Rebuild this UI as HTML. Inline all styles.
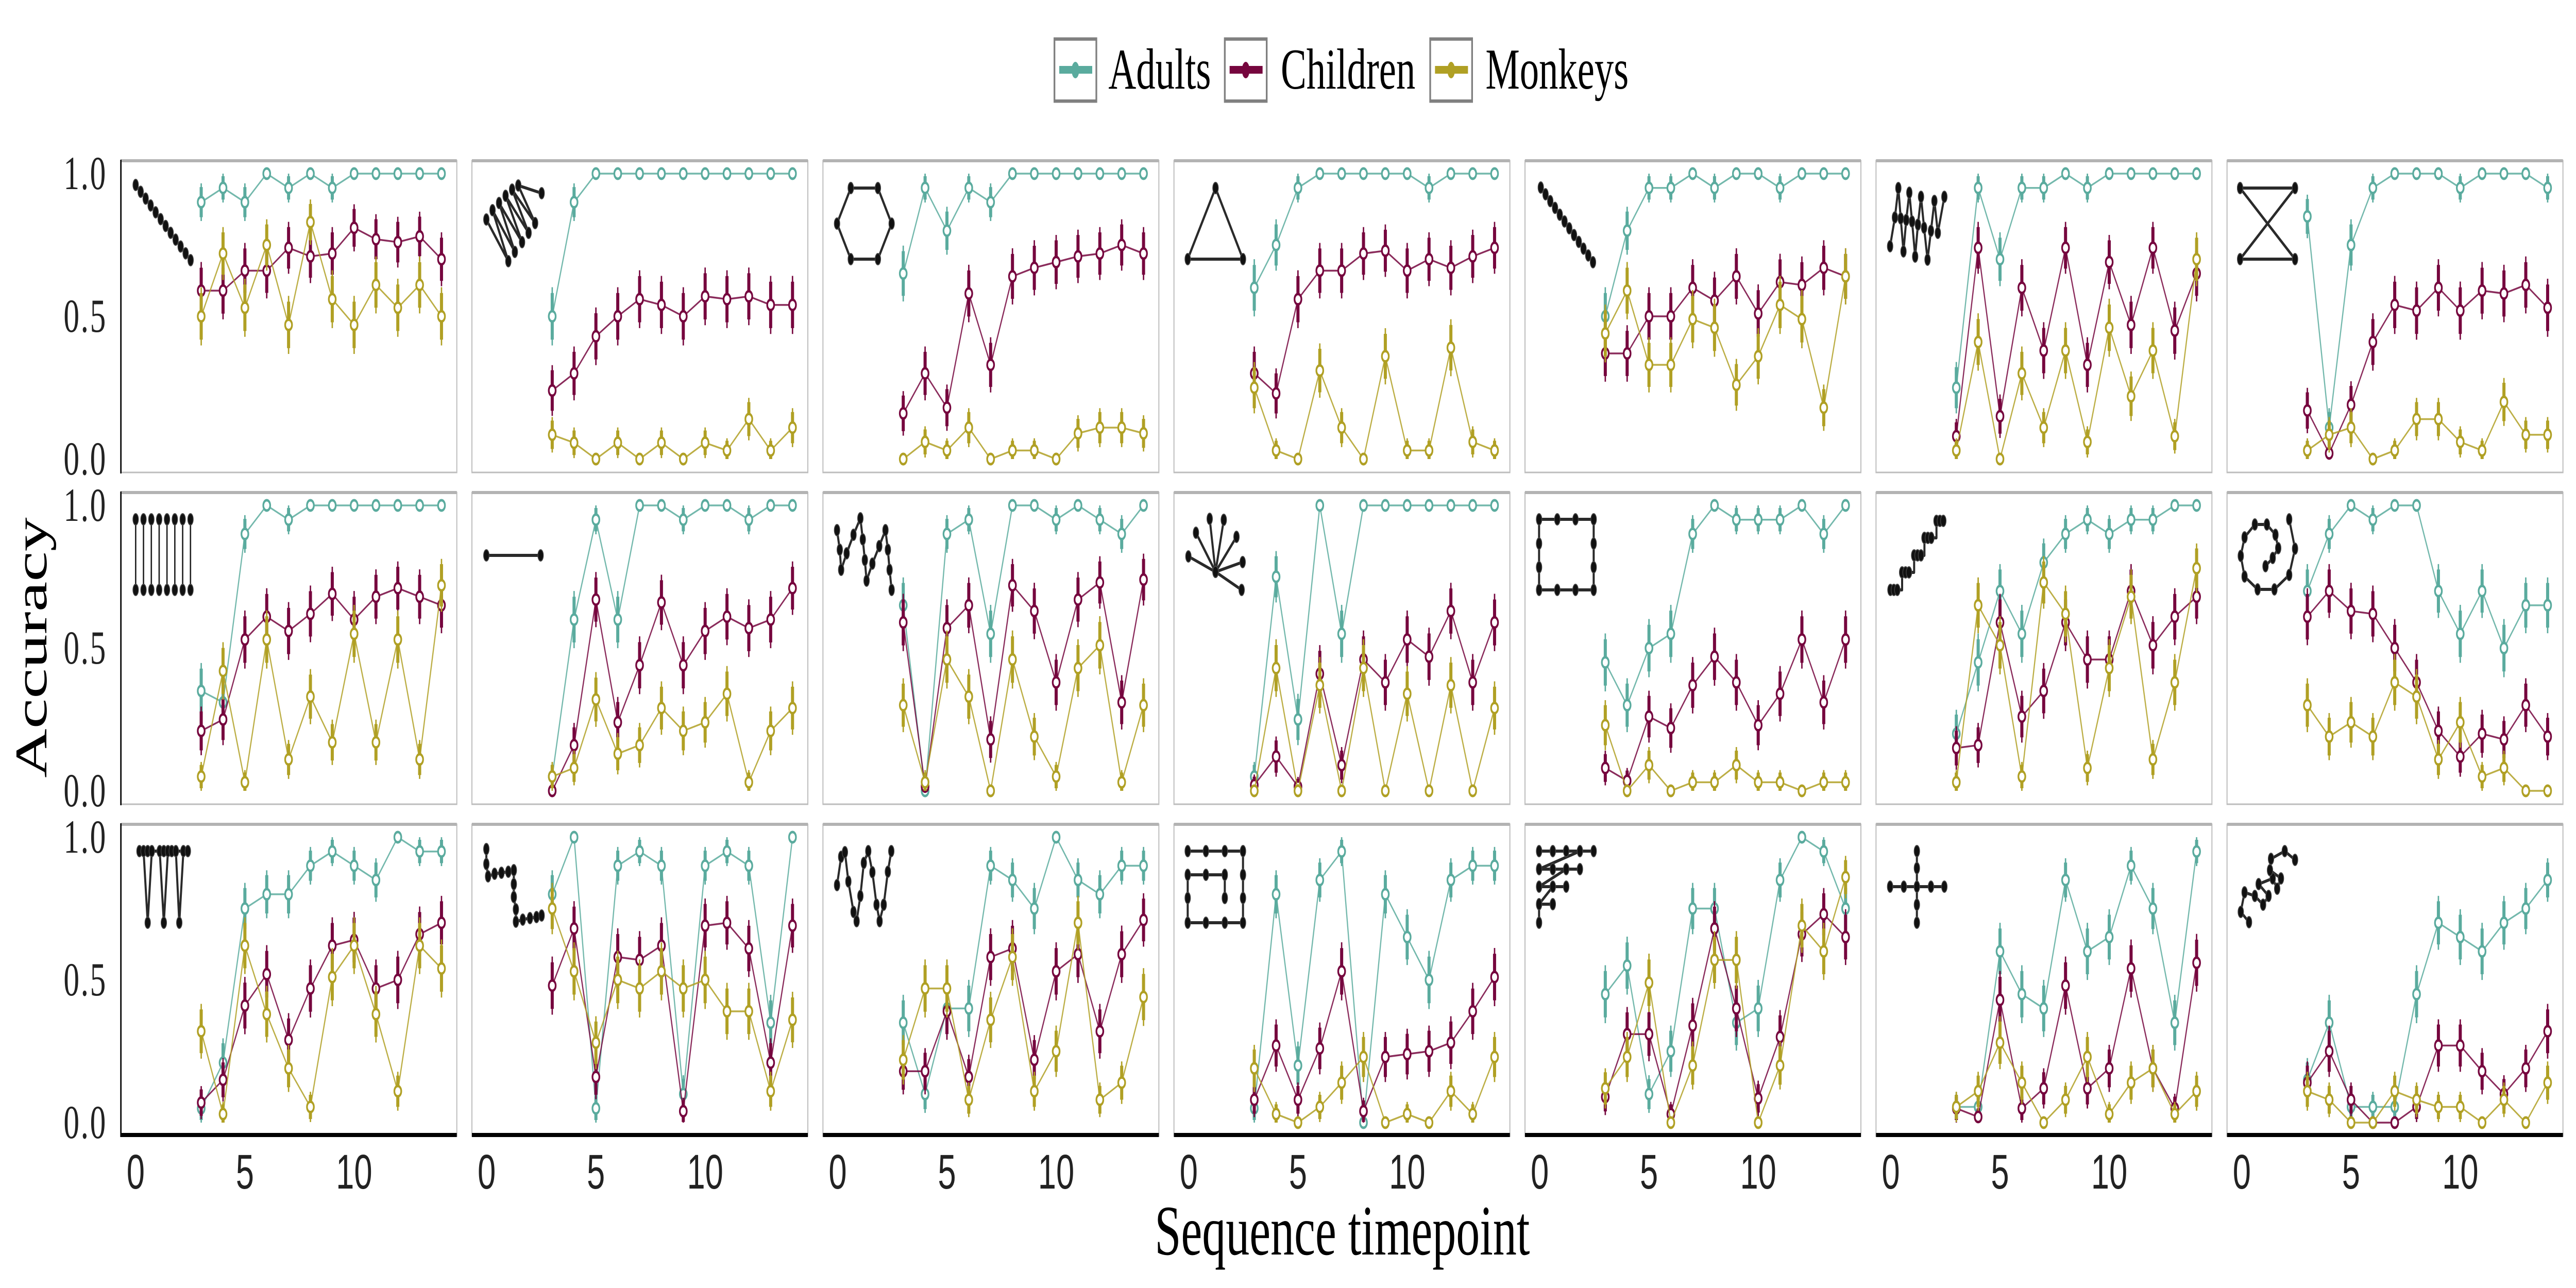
<!DOCTYPE html>
<html>
<head>
<meta charset="utf-8">
<style>
html,body{margin:0;padding:0;background:#fff;overflow:hidden;width:100vw;height:100vh;}
svg{display:block;width:100vw;height:100vh;}
</style>
</head>
<body>
<svg id="chart" xmlns="http://www.w3.org/2000/svg" viewBox="0 0 7500 2500" preserveAspectRatio="none">
  <rect x="0" y="0" width="7500" height="2500" fill="#ffffff"/>
  <g id="legend"></g>
  <g id="panels"></g>
  <text x="3908" y="2435" text-anchor="middle" font-family="Liberation Serif, serif" font-size="138" fill="#000">Sequence timepoint</text>
  <text x="0" y="0" transform="translate(135,1257) rotate(-90)" text-anchor="middle" font-family="Liberation Serif, serif" font-size="132" fill="#000">Accuracy</text>
</svg>
<script>
const timepoints = [3,4,5,6,7,8,9,10,11,12,13,14];
const xTicks = [0,5,10];
const yTicks = [1.0,0.5,0.0];
const yTickLabels = ["1.0","0.5","0.0"];
const seriesNames = ["Adults","Children","Monkeys"];
const seriesColors = ["#5aab9e","#76063e","#b0a024"];

const adults = [
[0.90,0.95,0.90,1,0.95,1,0.95,1,1,1,1,1],
[0.50,0.90,1,1,1,1,1,1,1,1,1,1],
[0.65,0.95,0.80,0.95,0.90,1,1,1,1,1,1,1],
[0.60,0.75,0.95,1,1,1,1,1,0.95,1,1,1],
[0.50,0.80,0.95,0.95,1,0.95,1,1,0.95,1,1,1],
[0.25,0.95,0.70,0.95,0.95,1,0.95,1,1,1,1,1],
[0.85,0.11,0.75,0.95,1,1,1,0.95,1,1,1,0.95],
[0.35,0.31,0.90,1,0.95,1,1,1,1,1,1,1],
[0.05,0.60,0.95,0.60,1,1,0.95,1,1,0.95,1,1],
[0.65,0,0.90,0.95,0.55,1,1,0.95,1,0.95,0.90,1],
[0.05,0.75,0.25,1,0.55,1,1,1,1,1,1,1],
[0.45,0.30,0.50,0.55,0.90,1,0.95,0.95,0.95,1,0.90,1],
[0.20,0.45,0.70,0.55,0.80,0.90,0.95,0.90,0.95,0.95,1,1],
[0.70,0.90,1,0.95,1,1,0.70,0.55,0.70,0.50,0.65,0.65],
[0.05,0.21,0.75,0.80,0.80,0.90,0.95,0.90,0.85,1,0.95,0.95],
[0.80,1,0.05,0.90,0.95,0.90,0.10,0.90,0.95,0.90,0.35,1],
[0.35,0.10,0.40,0.40,0.90,0.85,0.75,1,0.85,0.80,0.90,0.90],
[0.05,0.80,0.20,0.85,0.95,0,0.80,0.65,0.50,0.85,0.90,0.90],
[0.45,0.55,0.10,0.25,0.75,0.75,0.35,0.40,0.85,1,0.95,0.75],
[0.055,0.055,0.60,0.45,0.40,0.85,0.60,0.65,0.90,0.75,0.35,0.95],
[0.15,0.35,0.055,0.055,0.055,0.45,0.70,0.65,0.60,0.70,0.75,0.85]
];
const children = [
[0.59,0.59,0.66,0.66,0.74,0.71,0.72,0.81,0.77,0.76,0.78,0.70],
[0.24,0.30,0.43,0.50,0.56,0.54,0.50,0.57,0.56,0.57,0.54,0.54],
[0.16,0.30,0.18,0.58,0.33,0.64,0.67,0.69,0.71,0.72,0.75,0.72],
[0.30,0.23,0.56,0.66,0.66,0.72,0.73,0.66,0.70,0.67,0.71,0.74],
[0.37,0.37,0.50,0.50,0.60,0.555,0.64,0.51,0.62,0.61,0.67,0.64],
[0.08,0.74,0.15,0.60,0.38,0.74,0.33,0.69,0.47,0.74,0.45,0.65],
[0.17,0.02,0.19,0.41,0.54,0.52,0.60,0.52,0.59,0.58,0.61,0.53],
[0.21,0.25,0.53,0.61,0.56,0.62,0.69,0.60,0.68,0.71,0.68,0.65],
[0.00,0.16,0.67,0.24,0.44,0.66,0.44,0.56,0.61,0.57,0.60,0.71],
[0.59,0.015,0.57,0.65,0.18,0.72,0.63,0.38,0.67,0.73,0.31,0.74],
[0.02,0.12,0.015,0.41,0.09,0.46,0.38,0.53,0.47,0.63,0.38,0.59],
[0.08,0.035,0.26,0.22,0.37,0.47,0.38,0.23,0.34,0.53,0.31,0.53],
[0.15,0.16,0.59,0.26,0.35,0.59,0.46,0.46,0.70,0.51,0.61,0.68],
[0.61,0.70,0.63,0.62,0.50,0.38,0.21,0.12,0.20,0.18,0.30,0.19],
[0.07,0.15,0.41,0.52,0.29,0.47,0.62,0.64,0.47,0.50,0.66,0.70],
[0.48,0.68,0.16,0.58,0.57,0.62,0.04,0.69,0.70,0.61,0.21,0.69],
[0.18,0.18,0.39,0.16,0.58,0.61,0.22,0.53,0.59,0.32,0.59,0.71],
[0.08,0.27,0.08,0.26,0.53,0.04,0.23,0.24,0.25,0.28,0.39,0.51],
[0.09,0.31,0.31,0.03,0.34,0.68,0.40,0.085,0.30,0.66,0.73,0.65],
[0.05,0.02,0.43,0.05,0.12,0.48,0.12,0.19,0.54,0.19,0.05,0.56],
[0.14,0.25,0.08,0.00,0.00,0.055,0.27,0.27,0.18,0.10,0.19,0.32]
];
const monkeys = [
[0.50,0.72,0.53,0.75,0.47,0.83,0.56,0.47,0.61,0.53,0.61,0.50],
[0.085,0.057,0.00,0.057,0.00,0.057,0.00,0.057,0.03,0.14,0.03,0.11],
[0.00,0.06,0.03,0.11,0.00,0.03,0.03,0.00,0.09,0.11,0.11,0.09],
[0.25,0.03,0.00,0.31,0.11,0.00,0.36,0.03,0.03,0.39,0.06,0.03],
[0.44,0.59,0.33,0.33,0.49,0.46,0.26,0.36,0.54,0.49,0.18,0.64],
[0.03,0.41,0.00,0.30,0.11,0.38,0.06,0.46,0.22,0.38,0.08,0.70],
[0.03,0.085,0.11,0.00,0.03,0.14,0.14,0.06,0.03,0.20,0.085,0.085],
[0.05,0.42,0.03,0.53,0.11,0.33,0.17,0.55,0.17,0.53,0.11,0.72],
[0.05,0.08,0.32,0.13,0.16,0.29,0.21,0.24,0.34,0.03,0.21,0.29],
[0.30,0.03,0.46,0.33,0.00,0.46,0.19,0.05,0.43,0.51,0.03,0.30],
[0.00,0.43,0.00,0.37,0.00,0.43,0.00,0.34,0.00,0.37,0.00,0.29],
[0.23,0.00,0.09,0.00,0.03,0.03,0.09,0.03,0.03,0.00,0.03,0.03],
[0.03,0.65,0.51,0.05,0.73,0.62,0.08,0.43,0.68,0.11,0.38,0.78],
[0.30,0.19,0.24,0.19,0.38,0.33,0.11,0.24,0.05,0.08,0.00,0.00],
[0.32,0.03,0.62,0.38,0.19,0.055,0.51,0.62,0.38,0.11,0.62,0.54],
[0.75,0.53,0.28,0.50,0.47,0.53,0.47,0.50,0.39,0.39,0.11,0.36],
[0.22,0.47,0.47,0.08,0.36,0.58,0.11,0.25,0.70,0.08,0.14,0.44],
[0.19,0.03,0.00,0.055,0.14,0.23,0.00,0.03,0.00,0.11,0.03,0.23],
[0.12,0.23,0.49,0.00,0.20,0.57,0.57,0.00,0.20,0.69,0.60,0.86],
[0.055,0.11,0.28,0.14,0.00,0.08,0.23,0.03,0.14,0.19,0.03,0.11],
[0.11,0.08,0.00,0.00,0.11,0.08,0.055,0.055,0.00,0.08,0.00,0.14]
];

const icons = [
 {l:[[[43,47],[203,193]]], d:"line12"},
 {l:[[[42,114],[106,195],[60,96],[125,177],[79,82],[146,158],[98,68],[165,140],[117,56],[184,121],[135,48],[203,63]]]},
 {l:[[[81,53],[160,53],[200,122],[160,191],[81,191],[41,122],[81,53]]]},
 {l:[[[121,53],[201,191],[40,191],[121,53]]]},
 {l:[[[46,52],[198,197]]], d:"line12"},
 {l:[[[41,166],[55,110],[65,53],[72,112],[80,176],[88,115],[97,62],[105,118],[114,186],[122,124],[131,70],[140,130],[150,192],[160,136],[170,78],[180,140],[199,70]]]},
 {l:[[[38,53],[198,53],[38,191],[198,191],[38,53]]]},
 {l:[], d:"comb"},
 {l:[[[42,122],[200,122]]]},
 {l:[[[41,73],[49,111],[53,150],[69,118],[89,82],[109,50],[116,91],[122,131],[127,171],[144,138],[164,104],[182,73],[189,111],[194,150],[200,189]]]},
 {l:[[[121,154],[42,124]],[[121,154],[64,78]],[[121,154],[104,51]],[[121,154],[145,53]],[[121,154],[182,86]],[[121,154],[200,135]],[[121,154],[197,189]]]},
 {l:[[[41,52],[200,52],[200,189],[41,189],[41,52]]], p:[[41,52],[94,52],[147,52],[200,52],[41,99],[200,99],[41,145],[200,145],[41,189],[94,189],[147,189],[200,189]]},
 {l:[[[42,189],[62,189],[76,189],[76,155],[96,155],[111,155],[111,122],[131,122],[141,122],[141,88],[161,88],[176,88],[176,55],[196,55]]], p:[[42,189],[52,189],[62,189],[76,155],[86,155],[96,155],[111,122],[121,122],[131,122],[141,88],[151,88],[161,88],[176,55],[186,55],[196,55]]},
 {l:[[[181,52],[198,109],[181,160],[138,188],[89,188],[51,163],[40,123],[51,87],[81,62],[116,62],[141,82],[149,108],[133,127],[112,143]]]},
 {l:[[[54,52],[195,52]],[[66,52],[78,191],[90,52]],[[113,52],[125,191],[137,52]],[[160,52],[170,191],[182,52]]], p:[[54,52],[66,52],[78,52],[90,52],[113,52],[125,52],[137,52],[148,52],[160,52],[182,52],[195,52],[78,191],[125,191],[170,191]]},
 {l:[[[42,48],[42,77],[47,101],[66,96],[86,94],[106,92],[122,89],[122,116],[122,141],[128,165],[128,189],[148,185],[169,182],[188,180],[203,177]]]},
 {l:[[[41,118],[53,63],[64,54],[74,111],[89,170],[98,188],[109,139],[119,75],[132,52],[144,93],[156,156],[165,188],[177,156],[189,92],[199,52]]]},
 {l:[[[40,52],[201,52],[201,191],[40,191],[40,98],[148,98],[148,143]]], p:[[40,52],[93,52],[148,52],[201,52],[40,98],[93,98],[148,98],[201,98],[40,143],[148,143],[201,143],[40,191],[93,191],[148,191],[201,191]]},
 {l:[[[41,52],[200,52]],[[160,52],[41,87],[160,87]],[[120,87],[41,121],[120,121]],[[81,121],[41,155],[81,155]],[[41,155],[41,191]]], p:[[41,52],[81,52],[120,52],[160,52],[200,52],[41,87],[81,87],[120,87],[160,87],[41,121],[81,121],[120,121],[41,155],[81,155],[41,191]]},
 {l:[[[41,121],[199,121]],[[119,52],[119,191]]], p:[[41,121],[81,121],[119,121],[160,121],[199,121],[119,52],[119,85],[119,156],[119,191]]},
 {l:[[[64,190],[40,170],[51,132],[81,139],[105,156],[121,139],[92,116],[133,105],[146,125],[157,105],[125,89],[128,67],[168,52],[198,69]]]}
];

const svgNS = "http://www.w3.org/2000/svg";
function mk(tag, attrs, parent){
  const e = document.createElementNS(svgNS, tag);
  for (const k in attrs) e.setAttribute(k, attrs[k]);
  parent.appendChild(e);
  return e;
}

const COLS = 7, PANEL_W = 978, PANEL_H = 605, PITCH_X = 1022;
const rowTops = [312, 956, 1600];
function panelLeft(c){ return 352 + c*PITCH_X; }
function xScale(t, c){ return panelLeft(c) + 43 + t*63.6; }
function yScale(v, r){ return rowTops[r] + 25 + (1 - v)*554; }
function errHalf(p){ return 0.18*Math.sqrt(Math.max(0,p*(1-p))) + 0.012; }

const panelsG = document.getElementById('panels');
const allSeries = [adults, children, monkeys];

for (let i = 0; i < 21; i++){
  const r = Math.floor(i/COLS), c = i % COLS;
  const L = panelLeft(c), T = rowTops[r];
  const g = mk('g', {}, panelsG);
  
  

  const frame = mk('rect', {x:L, y:T, width:PANEL_W, height:PANEL_H, fill:'#fff', stroke:'#bdbdbd', 'stroke-width':3}, g);
  
  
  const topEdge = mk('line', {x1:L, y1:T, x2:L+PANEL_W, y2:T, stroke:'#b3b3b3', 'stroke-width':6}, g);
  
  

  if (c === 0){
    const ya = mk('line', {x1:L, y1:T-2, x2:L, y2:T+PANEL_H+2, stroke:'#000', 'stroke-width':4}, g);
    
    
    yTicks.forEach((v, k) => {
      const tl = mk('text', {x:L-40, y:yScale(v, r)+30, 'text-anchor':'end', 'font-family':'Liberation Serif, serif', 'font-size':92, 'letter-spacing':4, fill:'#222'}, g);
      tl.textContent = yTickLabels[k];
      
      
    });
  }
  if (r === 2){
    const xa = mk('line', {x1:L, y1:T+PANEL_H-2, x2:L+PANEL_W, y2:T+PANEL_H-2, stroke:'#000', 'stroke-width':8}, g);
    
    
    xTicks.forEach(t => {
      const xl = mk('text', {x:xScale(t, c), y:2307, 'text-anchor':'middle', 'font-family':'Liberation Sans, sans-serif', 'font-size':95, fill:'#222'}, g);
      xl.textContent = String(t);
      
      
    });
  }

  const ic = icons[i];
  const ig = mk('g', {}, g);
  
  
  let dots = [];
  if (ic.d === 'line12'){
    const a = ic.l[0][0], b = ic.l[0][1];
    for (let k = 0; k < 12; k++) dots.push([a[0]+(b[0]-a[0])*k/11, a[1]+(b[1]-a[1])*k/11]);
  } else if (ic.d === 'comb'){
    for (let k = 0; k < 8; k++){
      const x = 43 + k*22.8;
      mk('line', {x1:L+x, y1:T+52, x2:L+x, y2:T+189, stroke:'#222', 'stroke-width':4}, ig);
      dots.push([x,52]); dots.push([x,189]);
    }
  }
  ic.l.forEach(pl => {
    mk('polyline', {points: pl.map(p => (L+p[0])+','+(T+p[1])).join(' '), fill:'none', stroke:'#2a2a2a', 'stroke-width':6, 'stroke-linejoin':'round'}, ig);
  });
  if (!ic.d){
    dots = ic.p ? ic.p : [].concat(...ic.l);
  }
  dots.forEach(p => mk('ellipse', {cx:L+p[0], cy:T+p[1], rx:8, ry:11, fill:'#111', stroke:'#444', 'stroke-width':2}, ig));

  allSeries.forEach((series, s) => {
    const vals = series[i];
    const col = seriesColors[s];
    const sg = mk('g', {}, g);
    
    
    const pts = vals.map((v, k) => xScale(timepoints[k], c) + ',' + yScale(v, r)).join(' ');
    const ln = mk('polyline', {points: pts, fill:'none', stroke:col, 'stroke-width':3.5, 'stroke-opacity':0.85}, sg);
    
    
    vals.forEach((v, k) => {
      const x = xScale(timepoints[k], c);
      const e1 = errHalf(v), e2 = e1*0.8;
      mk('line', {x1:x, y1:yScale(Math.min(1,v+e1), r), x2:x, y2:yScale(Math.max(0,v-e1), r), stroke:col, 'stroke-width':4}, sg);
      mk('line', {x1:x, y1:yScale(Math.min(1,v+e2), r), x2:x, y2:yScale(Math.max(0,v-e2), r), stroke:col, 'stroke-width':9}, sg);
      const pt = mk('circle', {cx:x, cy:yScale(v, r), r:10, fill:'#fff', stroke:col, 'stroke-width':5}, sg);
      
      
    });
  });
}

const legendG = document.getElementById('legend');
const legBoxX = [3070, 3566, 4164];
const legTextX = [3227, 3729, 4325];
seriesNames.forEach((name, s) => {
  const eg = mk('g', {}, legendG);
  
  
  const bx = legBoxX[s];
  mk('rect', {x:bx, y:75, width:122, height:122, fill:'#fff', stroke:'#808080', 'stroke-width':5}, eg);
  mk('line', {x1:bx, y1:76, x2:bx+122, y2:76, stroke:'#808080', 'stroke-width':6}, eg);
  mk('line', {x1:bx, y1:196, x2:bx+122, y2:196, stroke:'#808080', 'stroke-width':6}, eg);
  mk('rect', {x:bx+14, y:128, width:96, height:15, fill:seriesColors[s]}, eg);
  mk('ellipse', {cx:bx+61, cy:136, rx:11, ry:16, fill:seriesColors[s]}, eg);
  const t = mk('text', {x:legTextX[s], y:172, 'font-family':'Liberation Serif, serif', 'font-size':112, fill:'#000'}, eg);
  t.textContent = name;
  
  
});
</script>
</body>
</html>
